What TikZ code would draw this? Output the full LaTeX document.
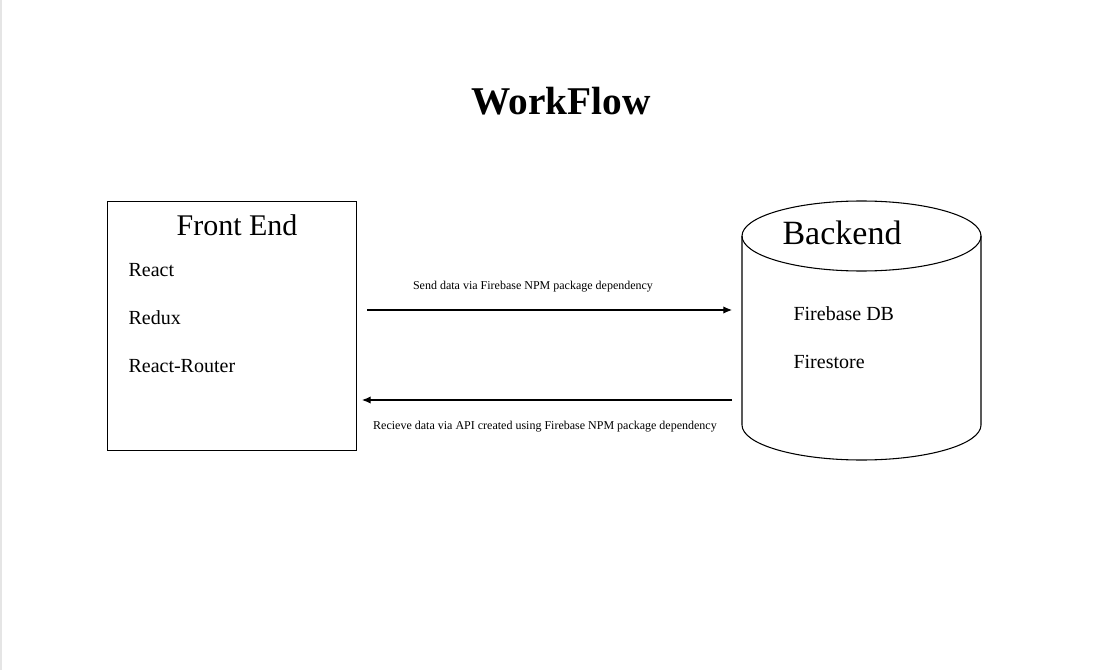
\documentclass[tikz,border=0pt]{standalone}
\usepackage{fontspec}
\setmainfont{Liberation Serif}
\usetikzlibrary{arrows.meta}
\begin{document}
\begin{tikzpicture}[x=0.75pt,y=-0.75pt,
  line width=0.8pt,
  titletext/.style={font=\fontsize{29.5}{34}\selectfont\bfseries, inner sep=0},
  headtext/.style={font=\fontsize{22.5}{26}\selectfont, inner sep=0},
  itemtext/.style={font=\fontsize{15}{18}\selectfont, inner sep=0, anchor=west},
  labeltext/.style={font=\fontsize{9}{11}\selectfont, inner sep=0},
  flow/.style={-{Latex[length=6.5pt,width=5.5pt]}, line width=0.8pt}]
\useasboundingbox (0,0) rectangle (1102,670);
\draw[draw=gray!20, line width=1.2pt] (0.8,0) -- (0.8,670);
% title
\node[titletext] (title) at (561,101) {WorkFlow};
% front end box
\node[draw, minimum width=249*0.75pt, minimum height=249*0.75pt, inner sep=0, anchor=north west] (front) at (107,201) {};
\node[headtext] (fronthead) at (237,225) {Front End};
\node[itemtext] (react) at (128,270) {React};
\node[itemtext] (redux) at (128,318) {Redux};
\node[itemtext] (router) at (128,366) {React-Router};
% backend cylinder
\draw (742,236) -- (742,425) arc[start angle=180, end angle=0, x radius=119.5, y radius=35] -- (981,236);
\draw (861.5,236) ellipse[x radius=119.5, y radius=35];
\node[inner sep=0, minimum width=239*0.75pt, minimum height=259*0.75pt] (back) at (861.5,330.5) {};
\node[font=\fontsize{25.5}{30}\selectfont, inner sep=0] (backhead) at (842,233) {Backend};
\node[itemtext] (fbdb) at (793,314) {Firebase DB};
\node[itemtext] (fstore) at (793,362) {Firestore};
% connectors
\coordinate (s1) at (367,310);
\coordinate (e1) at (732,310);
\coordinate (s2) at (732,400);
\coordinate (e2) at (362,400);
\draw[flow] (s1) -- (e1);
\draw[flow] (s2) -- (e2);
\node[labeltext] (lab1) at (533,286.5) {Send data via Firebase NPM package dependency};
\node[labeltext] (lab2) at (545,426.5) {Recieve data via API created using Firebase NPM package dependency};
\end{tikzpicture}
\end{document}
